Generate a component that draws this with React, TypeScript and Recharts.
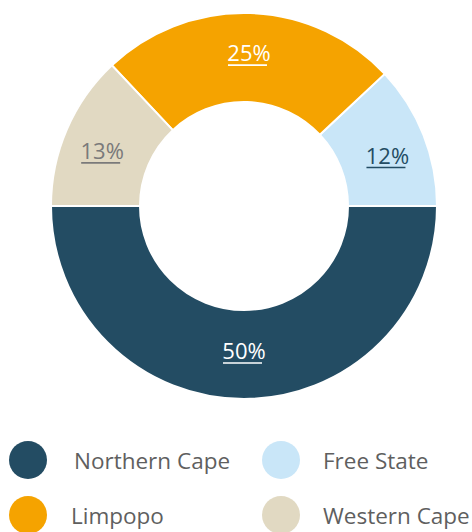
import React from 'react';
import { PieChart, Pie, Cell, Legend } from 'recharts';

const regions = ['Northern Cape', 'Free State', 'Limpopo', 'Western Cape'];
const shares = [50, 12, 25, 13];
const sliceColors = ['#234c63', '#c9e6f8', '#f5a300', '#e1d9c2'];
const labelColors = ['#ffffff', '#234c63', '#ffffff', '#7a7a7a'];

const data = regions.map((name, i) => ({ name, value: shares[i] }));

const RADIAN = Math.PI / 180;
const FONT = '"Open Sans", "DejaVu Sans", sans-serif';

// percentage label with an underline, sitting on the middle of the ring
const renderLabel = (props: any) => {
  const { cx, cy, midAngle, index, value } = props;
  const a = ((midAngle % 360) + 360) % 360;
  // labels lean slightly toward the horizontal, like the original
  const v = a < 180 ? 90 : 270;
  const angle = v + (a - v) * 1.05;
  const x = cx + 151 * Math.cos(-angle * RADIAN);
  const y = cy + 149 * Math.sin(-angle * RADIAN);
  const color = labelColors[index];
  return (
    <g>
      <text
        x={x}
        y={y - 5}
        fill={color}
        textAnchor="middle"
        dominantBaseline="central"
        fontSize={22}
        fontFamily={FONT}
      >
        {`${value}%`}
      </text>
      <line x1={x - 21} x2={x + 18} y1={y + 8} y2={y + 8} stroke={color} strokeWidth={1.6} />
    </g>
  );
};

const LegendBlock = () => (
  <div style={{ position: 'relative', width: 472, height: 100, fontFamily: FONT }}>
    {regions.map((name, i) => {
      const col = i % 2;
      const row = Math.floor(i / 2);
      const left = col === 0 ? 9 : 262;
      const top = row * 55;
      return (
        <div key={name} style={{ position: 'absolute', left, top, height: 38, display: 'flex', alignItems: 'center' }}>
          <span
            style={{
              width: 38,
              height: 38,
              borderRadius: '50%',
              background: sliceColors[i],
              display: 'inline-block',
            }}
          />
          <span style={{ marginLeft: col === 0 ? (i === 0 ? 27 : 24) : 23, fontSize: 22.5, color: '#5f5f5f' }}>{name}</span>
        </div>
      );
    })}
  </div>
);

export default function App() {
  return (
    <div style={{ position: 'absolute', left: 0, top: 0, width: 472, height: 532, background: '#fff' }}>
      <PieChart width={472} height={532} margin={{ top: 0, right: 0, bottom: 0, left: 0 }}>
        <Pie
          data={data}
          dataKey="value"
          nameKey="name"
          cx={244}
          cy={206}
          innerRadius={104}
          outerRadius={193}
          startAngle={180}
          endAngle={540}
          stroke="#ffffff"
          strokeWidth={2}
          label={renderLabel}
          labelLine={false}
          isAnimationActive={false}
        >
          {data.map((d, i) => (
            <Cell key={d.name} fill={sliceColors[i]} />
          ))}
        </Pie>
        <Legend
          content={() => <LegendBlock />}
          wrapperStyle={{ position: 'absolute', left: 0, top: 441, width: 472 }}
        />
      </PieChart>
    </div>
  );
}
